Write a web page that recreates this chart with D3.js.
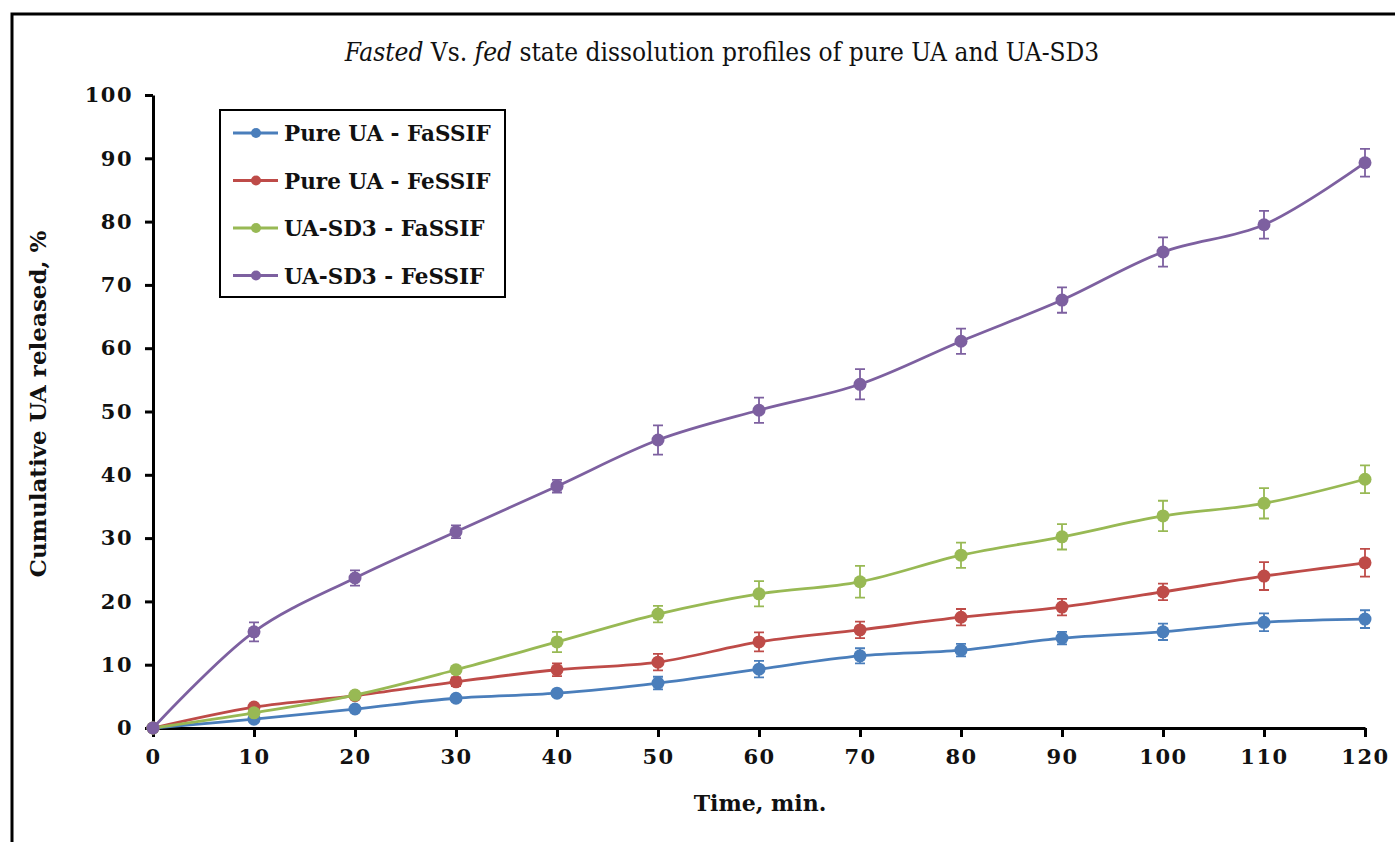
<!DOCTYPE html>
<html>
<head>
<meta charset="utf-8">
<script src="https://cdn.jsdelivr.net/npm/d3@7"></script>
<style>
  body { margin: 0; background: #fff; }
  svg { display: block; }
</style>
</head>
<body>
<div id="chart"></div>
<script>
// DATA
const times = [0, 10, 20, 30, 40, 50, 60, 70, 80, 90, 100, 110, 120];
const seriesNames = ['Pure UA - FaSSIF', 'Pure UA - FeSSIF', 'UA-SD3 - FaSSIF', 'UA-SD3 - FeSSIF'];
const pureFaSSIF = [0, 1.4, 3.0, 4.7, 5.5, 7.1, 9.3, 11.4, 12.3, 14.2, 15.2, 16.7, 17.2];
const pureFeSSIF = [0, 3.3, 5.1, 7.3, 9.2, 10.4, 13.6, 15.5, 17.5, 19.1, 21.5, 24.0, 26.1];
const sd3FaSSIF = [0, 2.4, 5.2, 9.2, 13.6, 18.0, 21.2, 23.1, 27.3, 30.2, 33.5, 35.5, 39.3];
const sd3FeSSIF = [0, 15.2, 23.7, 31.0, 38.2, 45.5, 50.2, 54.3, 61.1, 67.6, 75.2, 79.5, 89.3];
const errPureFaSSIF = [0, 0.3, 0.4, 0.5, 0.5, 1.0, 1.3, 1.2, 1.0, 1.0, 1.3, 1.4, 1.4];
const errPureFeSSIF = [0, 0.5, 0.5, 0.7, 1.0, 1.3, 1.5, 1.3, 1.3, 1.3, 1.3, 2.2, 2.2];
const errSd3FaSSIF = [0, 0.5, 0.5, 0.5, 1.6, 1.3, 2.0, 2.5, 2.0, 2.0, 2.4, 2.4, 2.2];
const errSd3FeSSIF = [0, 1.5, 1.2, 1.0, 1.0, 2.3, 2.0, 2.4, 2.0, 2.0, 2.3, 2.2, 2.2];
const yTicks = [0, 10, 20, 30, 40, 50, 60, 70, 80, 90, 100];
const colors = ['#4a7ebb', '#be4b48', '#98b954', '#7d60a0'];

const values = [pureFaSSIF, pureFeSSIF, sd3FaSSIF, sd3FeSSIF];
const errors = [errPureFaSSIF, errPureFeSSIF, errSd3FaSSIF, errSd3FeSSIF];

const width = 1395, height = 842;
const serif = '"DejaVu Serif", "Liberation Serif", serif';
const condensed = '"DejaVu Serif Condensed", "DejaVu Serif", serif';

const svg = d3.select('#chart').append('svg')
  .attr('width', width)
  .attr('height', height);

// outer frame
svg.append('rect')
  .attr('x', 12).attr('y', 14)
  .attr('width', width + 20).attr('height', height + 20)
  .attr('fill', 'none').attr('stroke', '#000').attr('stroke-width', 3);

const x = d3.scaleLinear().domain([0, 120]).range([153, 1365]);
const y = d3.scaleLinear().domain([0, 100]).range([728, 95]);

// title
svg.append('text')
  .attr('x', 722).attr('y', 61)
  .attr('text-anchor', 'middle')
  .attr('font-family', condensed)
  .attr('font-stretch', 'condensed')
  .attr('font-size', 26)
  .attr('fill', '#111')
  .call(t => {
    t.append('tspan').attr('font-style', 'italic').text('Fasted');
    t.append('tspan').text(' Vs. ');
    t.append('tspan').attr('font-style', 'italic').text('fed');
    t.append('tspan').text(' state dissolution profiles of pure UA and UA-SD3');
  });

// axes
const xAxis = svg.append('g')
  .attr('transform', `translate(0,${y(0)})`)
  .call(d3.axisBottom(x).tickValues(times).tickSize(9).tickSizeOuter(0).tickPadding(12));
const yAxis = svg.append('g')
  .attr('transform', `translate(${x(0)},0)`)
  .call(d3.axisLeft(y).tickValues(yTicks).tickSize(8).tickSizeOuter(0).tickPadding(12));

[xAxis, yAxis].forEach(g => {
  g.select('.domain').attr('stroke', '#000').attr('stroke-width', 3);
  g.selectAll('.tick line').attr('stroke', '#000').attr('stroke-width', 3);
  g.selectAll('.tick text')
    .attr('font-family', serif)
    .attr('font-weight', 'bold')
    .attr('font-size', 21)
    .attr('letter-spacing', 1.5)
    .attr('fill', '#111');
});

// axis titles
svg.append('text')
  .attr('x', 760).attr('y', 811)
  .attr('text-anchor', 'middle')
  .attr('font-family', serif).attr('font-weight', 'bold').attr('font-size', 22)
  .attr('fill', '#111')
  .text('Time, min.');

svg.append('text')
  .attr('transform', 'translate(46,404) rotate(-90)')
  .attr('text-anchor', 'middle')
  .attr('font-family', serif).attr('font-weight', 'bold').attr('font-size', 23)
  .attr('fill', '#111')
  .text('Cumulative UA released, %');

// series
const line = d3.line()
  .x((d, i) => x(times[i]))
  .y(d => y(d))
  .curve(d3.curveCatmullRom.alpha(0.5));

values.forEach((vals, s) => {
  const g = svg.append('g');
  // error bars
  vals.forEach((v, i) => {
    const e = errors[s][i];
    if (!e) return;
    const cx = x(times[i]);
    g.append('path')
      .attr('d', `M${cx},${y(v - e)}V${y(v + e)}M${cx - 5},${y(v - e)}H${cx + 5}M${cx - 5},${y(v + e)}H${cx + 5}`)
      .attr('stroke', colors[s]).attr('stroke-width', 1.8).attr('fill', 'none');
  });
  g.append('path')
    .datum(vals)
    .attr('d', line)
    .attr('fill', 'none')
    .attr('stroke', colors[s])
    .attr('stroke-width', 2.8);
  g.selectAll('circle')
    .data(vals)
    .join('circle')
    .attr('cx', (d, i) => x(times[i]))
    .attr('cy', d => y(d))
    .attr('r', 6.5)
    .attr('fill', colors[s]);
});

// legend
const legend = svg.append('g');
legend.append('rect')
  .attr('x', 220).attr('y', 110)
  .attr('width', 285).attr('height', 187)
  .attr('fill', '#fff').attr('stroke', '#000').attr('stroke-width', 2);
seriesNames.forEach((name, i) => {
  const ly = 133 + i * 47.5;
  legend.append('line')
    .attr('x1', 233).attr('x2', 278).attr('y1', ly).attr('y2', ly)
    .attr('stroke', colors[i]).attr('stroke-width', 2.8);
  legend.append('circle')
    .attr('cx', 256).attr('cy', ly).attr('r', 5)
    .attr('fill', colors[i]);
  legend.append('text')
    .attr('x', 284).attr('y', ly + 8)
    .attr('font-family', serif).attr('font-weight', 'bold').attr('font-size', 21.5)
    .attr('fill', '#111')
    .text(name);
});
</script>
</body>
</html>
